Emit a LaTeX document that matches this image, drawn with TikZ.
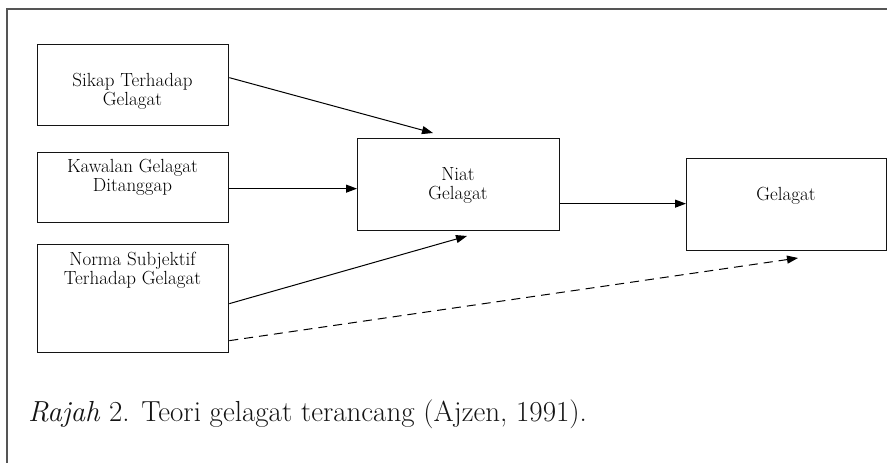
\documentclass[tikz,border=0pt]{standalone}
\usetikzlibrary{arrows.meta}
\definecolor{framegray}{HTML}{555555}
\definecolor{ink}{HTML}{141414}
\tikzset{
  box/.style={draw=ink, line width=1.3pt, minimum width=191pt, inner sep=0pt, anchor=north west},
  % labels are placed by the baseline of their last line
  boxtext/.style={font=\fontsize{19}{18.5}\selectfont, text=black, align=center, anchor=base, inner sep=0pt},
  link/.style={draw=black, line width=1pt, -{Triangle[length=11pt,width=8pt]}},
  dashlink/.style={link, dash pattern=on 9pt off 6pt}
}
\begin{document}
\begin{tikzpicture}[x=1pt,y=-1pt]
  \useasboundingbox (0,0) rectangle (887,463);
  % outer frame (top and left rules)
  \draw[framegray, line width=2.2pt] (887,9) -- (7,9) -- (7,463);

  % predictor boxes
  \node[box, minimum height=81pt] (sikap) at (37,44) {};
  \node[box, minimum height=70pt] (kawalan) at (37,152) {};
  \node[box, minimum height=108pt] (norma) at (37,244) {};
  % intention and behaviour boxes
  \node[box, minimum width=202pt, minimum height=92pt] (niat) at (357,138) {};
  \node[box, minimum width=200pt, minimum height=92pt] (gelagat) at (686,158) {};

  % box labels
  \node[boxtext] (tsikap) at (132.5,105) {Sikap Terhadap\\Gelagat};
  \node[boxtext] (tkawalan) at (132.5,191) {Kawalan Gelagat\\Ditanggap};
  \node[boxtext] (tnorma) at (132.5,284) {Norma Subjektif\\Terhadap Gelagat};
  \node[boxtext] (tniat) at (458,199) {Niat\\Gelagat};
  \node[boxtext] (tgelagat) at (786,200) {Gelagat};

  % arrow start points on the box edges
  \coordinate (sikapout) at ([yshift=7.5pt]sikap.east);
  \coordinate (kawalanout) at ([yshift=-1pt]kawalan.east);
  \coordinate (normaout) at ([yshift=-5pt]norma.east);
  \coordinate (normadirect) at ([yshift=-42pt]norma.east);
  \coordinate (niatout) at ([yshift=-19pt]niat.east);
  % free arrow ends
  \coordinate (sikapend) at (433,133);
  \coordinate (normaend) at (467,236);
  \coordinate (directend) at (798,258);

  % connectors
  \draw[link] (sikapout) -- (sikapend);
  \draw[link] (kawalanout) -- (niat.west |- kawalanout);
  \draw[link] (normaout) -- (normaend);
  \draw[link] (niatout) -- (gelagat.west |- niatout);
  \draw[dashlink] (normadirect) -- (directend);

  % caption
  \node[anchor=base west, inner sep=0pt, text=ink, font=\fontsize{29}{32}\selectfont] (caption) at (28,421)
    {\textit{Rajah} 2. Teori gelagat terancang (Ajzen, 1991).};
\end{tikzpicture}
\end{document}
